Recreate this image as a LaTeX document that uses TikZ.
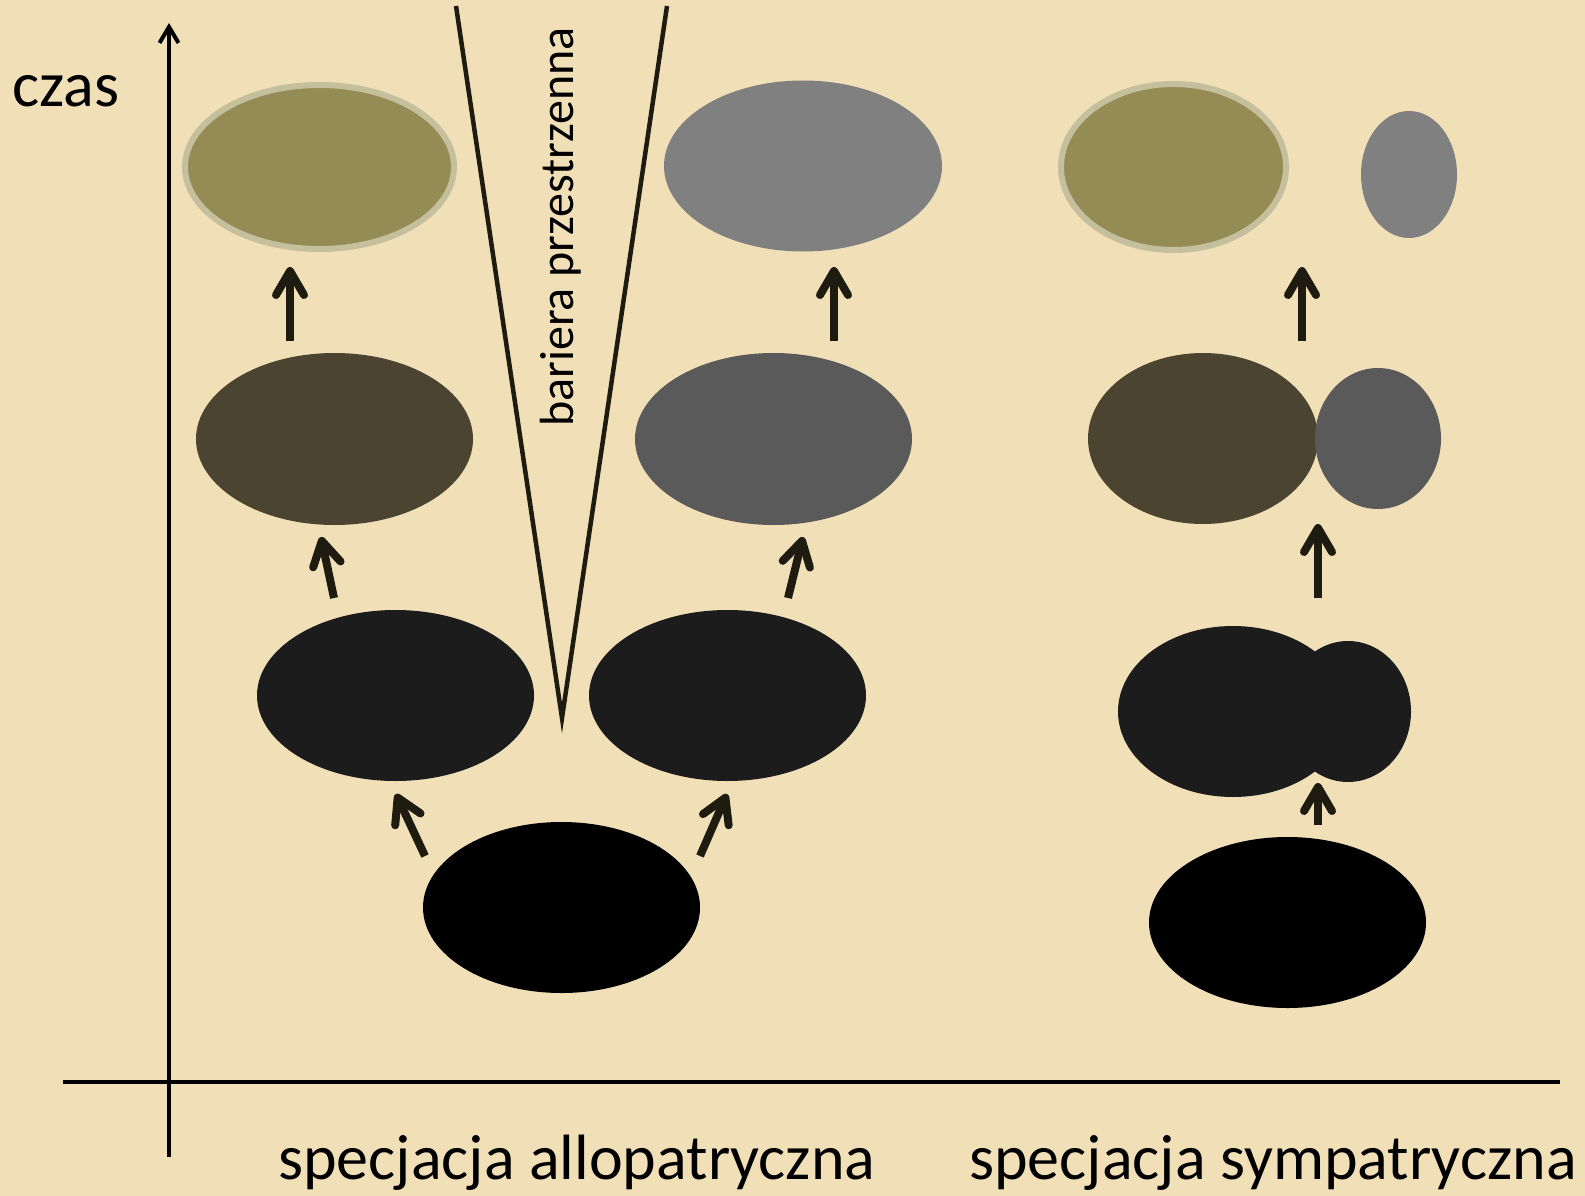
\documentclass[tikz,border=0pt]{standalone}
\usepackage{fontspec}
\setmainfont{Carlito}
\usetikzlibrary{shapes.geometric,arrows.meta}
\definecolor{bg}{HTML}{F1DFB7}
\definecolor{olive}{HTML}{948B55}
\definecolor{oliveborder}{HTML}{C4BF9C}
\definecolor{darkolive}{HTML}{4A4430}
\definecolor{midgray}{HTML}{808080}
\definecolor{darkgray}{HTML}{5A5A5A}
\definecolor{nearblack}{HTML}{1C1C1C}
\definecolor{arrowc}{HTML}{1E1B10}
\begin{document}
\begin{tikzpicture}[x=1pt,y=-1pt,
  pop/.style={ellipse, inner sep=0pt, draw=none},
  popb/.style={ellipse, inner sep=0pt, draw=oliveborder, line width=6pt, fill=olive},
  evo/.style={draw=arrowc, line width=8pt, -{Straight Barb[round,length=24pt,width=28pt]}},
  axisline/.style={draw=black, line width=4pt},
  barrier/.style={draw=arrowc, line width=4.5pt, line join=miter},
  lab/.style={inner sep=0pt, font=\fontsize{64}{70}\selectfont}]
\useasboundingbox (0,0) rectangle (1585,1196);
\fill[bg] (0,0) rectangle (1585,1196);

% axes
\coordinate (ybot) at (169,1157);
\coordinate (ytop) at (169,23);
\coordinate (xl) at (63,1082);
\coordinate (xr) at (1560,1082);
\draw[axisline, -{Straight Barb[length=16pt,width=19pt]}] (ybot) -- (ytop);
\draw[axisline] (xl) -- (xr);

% barrier
\coordinate (bl) at (456,6);
\coordinate (bapex) at (562,718);
\coordinate (br) at (667,6);
\draw[barrier] (bl) -- (bapex) -- (br);
\node[inner sep=0pt, rotate=90, anchor=base, font=\fontsize{48}{52}\selectfont] (btxt) at (573,227) {bariera przestrzenna};

% row 1 (top)
\node[popb, minimum width=269pt, minimum height=164pt] (t1) at (319.5,167) {};
\node[pop, fill=midgray, minimum width=278pt, minimum height=171pt] (t2) at (803,166) {};
\node[popb, minimum width=225pt, minimum height=166pt] (t3) at (1173.5,167) {};
\node[pop, fill=midgray, minimum width=96pt, minimum height=127pt] (t4) at (1409,174.5) {};

% row 2
\node[pop, fill=darkolive, minimum width=277pt, minimum height=172pt] (s1) at (334.5,439) {};
\node[pop, fill=darkgray, minimum width=277pt, minimum height=172pt] (s2) at (773.5,439) {};
\node[pop, fill=darkolive, minimum width=230pt, minimum height=171pt] (s3) at (1203,438.5) {};
\node[pop, fill=darkgray, minimum width=126pt, minimum height=141pt] (s4) at (1378,438.5) {};

% row 3
\node[pop, fill=nearblack, minimum width=277pt, minimum height=171pt] (r1) at (395.5,695.5) {};
\node[pop, fill=nearblack, minimum width=277pt, minimum height=171pt] (r2) at (727.5,695.5) {};
\node[pop, fill=nearblack, minimum width=230pt, minimum height=171pt] (r3) at (1233,711.5) {};
\node[pop, fill=nearblack, minimum width=126pt, minimum height=141pt] (r4) at (1348,711.5) {};

% row 4 (bottom)
\node[pop, fill=black, minimum width=277pt, minimum height=171pt] (q1) at (561.5,907.5) {};
\node[pop, fill=black, minimum width=277pt, minimum height=171pt] (q2) at (1287.5,922.5) {};

% arrows
\coordinate (a1s) at (290,341); \coordinate (a1e) at (290,267);
\coordinate (a2s) at (834,341); \coordinate (a2e) at (834,267);
\coordinate (a3s) at (1302,341); \coordinate (a3e) at (1302,267);
\coordinate (b1s) at (334,598); \coordinate (b1e) at (321,537);
\coordinate (b2s) at (788,598); \coordinate (b2e) at (803,537);
\coordinate (b3s) at (1318,598); \coordinate (b3e) at (1318,524);
\coordinate (c1s) at (425,856); \coordinate (c1e) at (396,794);
\coordinate (c2s) at (700,856); \coordinate (c2e) at (727,794);
\coordinate (c3s) at (1318,825); \coordinate (c3e) at (1318,783);
\foreach \n in {a1,a2,a3,b1,b2,b3,c1,c2,c3}
  \draw[evo] (\n s) -- (\n e);

% labels
\node[lab, anchor=base west] (czas) at (12,107) {czas};
\node[lab, anchor=base west] (allo) at (278,1179) {specjacja allopatryczna};
\node[lab, anchor=base west] (symp) at (969,1179) {specjacja sympatryczna};
\end{tikzpicture}
\end{document}
